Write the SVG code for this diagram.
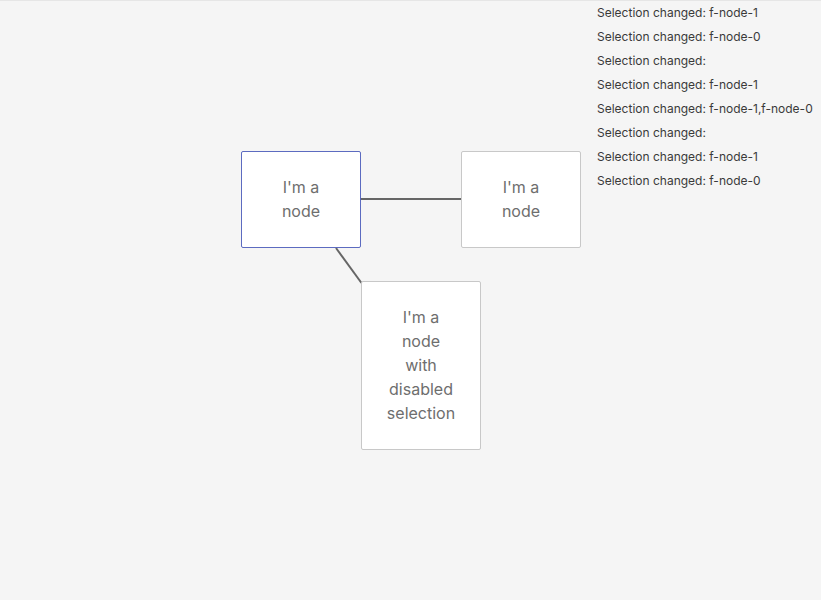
<svg xmlns="http://www.w3.org/2000/svg" width="821" height="600" viewBox="0 0 821 600">
<style>
.bg{fill:#f5f5f5}
.node rect{fill:#fff;stroke:#c8c8c8;stroke-width:1}
.node.sel rect{stroke:#3f51b5;stroke-opacity:.85}
.node text{font-family:Inter,"Noto Sans",sans-serif;font-size:16px;fill:#6e6e6e;text-anchor:middle}
.edge{stroke:#666;stroke-width:2;fill:none}
.log text{font-family:Inter,"Noto Sans",sans-serif;font-size:12px;fill:#3a3a3a}
</style>
<rect class="bg" x="0" y="0" width="821" height="600"/>
<line x1="0" y1="0.5" x2="821" y2="0.5" stroke="#e6e6e6"/>
<g id="connectors">
<line class="edge" x1="360.5" y1="199" x2="461" y2="199"/>
<line class="edge" x1="336" y1="248" x2="361.5" y2="283"/>
</g>
<g id="f-node-0" class="node sel">
<rect x="241.5" y="151.5" width="119" height="96" rx="1.5"/>
<text x="301" y="193">I'm a</text>
<text x="301" y="217">node</text>
</g>
<g id="f-node-1" class="node">
<rect x="461.5" y="151.5" width="119" height="96" rx="1.5"/>
<text x="521" y="193">I'm a</text>
<text x="521" y="217">node</text>
</g>
<g id="f-node-2" class="node">
<rect x="361.5" y="281.5" width="119" height="168" rx="1.5"/>
<text x="421" y="323">I'm a</text>
<text x="421" y="347">node</text>
<text x="421" y="371">with</text>
<text x="421" y="395">disabled</text>
<text x="421" y="419">selection</text>
</g>
<g id="log" class="log">
<text x="597" y="17">Selection changed: f-node-1</text>
<text x="597" y="41">Selection changed: f-node-0</text>
<text x="597" y="65">Selection changed:</text>
<text x="597" y="89">Selection changed: f-node-1</text>
<text x="597" y="113">Selection changed: f-node-1,f-node-0</text>
<text x="597" y="137">Selection changed:</text>
<text x="597" y="161">Selection changed: f-node-1</text>
<text x="597" y="185">Selection changed: f-node-0</text>
</g>
</svg>
